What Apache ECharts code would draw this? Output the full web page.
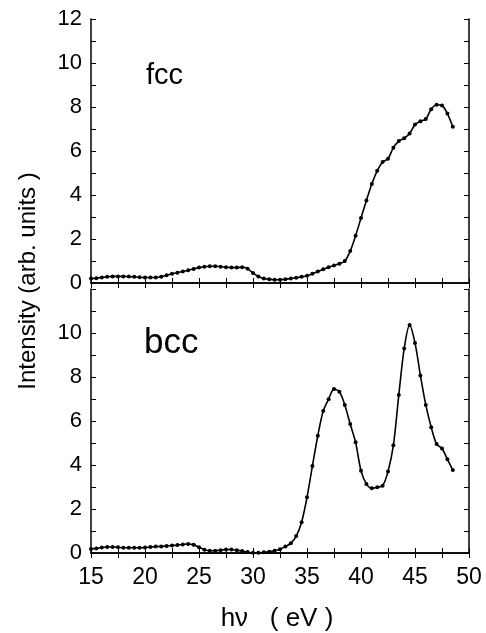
<!DOCTYPE html>
<html>
<head>
<meta charset="utf-8">
<script src="https://cdn.jsdelivr.net/npm/echarts@6/dist/echarts.min.js"></script>
<style>
html,body{margin:0;padding:0;background:#fff;}
#chart{width:486px;height:633px;}
</style>
</head>
<body>
<div id="chart"></div>
<script>
// Photon energy (eV)
const photonEnergy = [
  15.0, 15.5, 16.0, 16.5, 17.0, 17.5, 18.0, 18.5, 19.0, 19.5,
  20.0, 20.5, 21.0, 21.5, 22.0, 22.5, 23.0, 23.5, 24.0, 24.5,
  25.0, 25.5, 26.0, 26.5, 27.0, 27.5, 28.0, 28.5, 29.0, 29.5,
  30.0, 30.5, 31.0, 31.5, 32.0, 32.5, 33.0, 33.5, 34.0, 34.5,
  35.0, 35.5, 36.0, 36.5, 37.0, 37.5, 38.0, 38.5, 39.0, 39.5,
  40.0, 40.5, 41.0, 41.5, 42.0, 42.5, 43.0, 43.5, 44.0, 44.5,
  45.0, 45.5, 46.0, 46.5, 47.0, 47.5, 48.0, 48.5
];
// fcc intensity (arb. units)
const fccIntensity = [
  0.20, 0.22, 0.25, 0.28, 0.30, 0.30, 0.30, 0.29, 0.28, 0.26,
  0.25, 0.25, 0.25, 0.28, 0.35, 0.42, 0.47, 0.52, 0.58, 0.64,
  0.70, 0.74, 0.76, 0.76, 0.74, 0.72, 0.70, 0.70, 0.72, 0.65,
  0.45, 0.30, 0.20, 0.17, 0.15, 0.15, 0.17, 0.20, 0.24, 0.28,
  0.33, 0.42, 0.52, 0.62, 0.72, 0.80, 0.88, 1.00, 1.45, 2.15,
  2.95, 3.75, 4.50, 5.10, 5.50, 5.65, 6.15, 6.45, 6.58, 6.80,
  7.20, 7.35, 7.45, 7.90, 8.10, 8.07, 7.70, 7.10
];
// bcc intensity (arb. units)
const bccIntensity = [
  0.18, 0.21, 0.25, 0.27, 0.27, 0.26, 0.24, 0.24, 0.24, 0.24,
  0.25, 0.27, 0.29, 0.30, 0.32, 0.34, 0.36, 0.39, 0.41, 0.37,
  0.26, 0.15, 0.10, 0.10, 0.13, 0.16, 0.16, 0.13, 0.09, 0.04,
  0.01, 0.01, 0.03, 0.06, 0.10, 0.17, 0.29, 0.44, 0.77, 1.40,
  2.53, 3.95, 5.33, 6.45, 6.99, 7.45, 7.33, 6.73, 5.86, 5.03,
  3.74, 3.14, 2.94, 2.99, 3.06, 3.70, 4.90, 7.18, 9.30, 10.36,
  9.55, 8.07, 6.73, 5.72, 4.95, 4.75, 4.26, 3.77
];
const xMin = 15, xMax = 50, xStep = 2.5;
const yMin = 0, yMax = 12, yStep = 1;
const panelLabels = ['fcc', 'bcc'];
const xTitle = 'hν   ( eV )';
const yTitle = 'Intensity (arb. units )';

const FONT = '"Liberation Sans", Arial, Helvetica, sans-serif';
const BLACK = '#000';

function pair(xsArr, ysArr) { return xsArr.map((x, i) => [x, ysArr[i]]); }

const grids = [
  {left: 91, top: 19, width: 378, height: 264},
  {left: 91, top: 289, width: 378, height: 264}
];

const tickStyle = {show: true, inside: true, length: 5, lineStyle: {color: BLACK, width: 1}};
const lineStyle = {color: BLACK, width: 1.5};

const xAxes = [], yAxes = [];
grids.forEach((g, gi) => {
  xAxes.push({
    type: 'value', gridIndex: gi, min: xMin, max: xMax, interval: xStep, position: 'bottom',
    axisLine: {show: true, lineStyle: lineStyle}, axisTick: tickStyle, splitLine: {show: false},
    axisLabel: {
      show: gi === 1, margin: 13, color: BLACK, fontSize: 23, fontFamily: FONT,
      formatter: v => (Math.abs(v % 5) < 1e-9 ? String(v) : '')
    }
  });
  xAxes.push({
    type: 'value', gridIndex: gi, min: xMin, max: xMax, interval: xStep, position: 'top',
    axisLine: {show: true, lineStyle: lineStyle}, axisTick: tickStyle, splitLine: {show: false},
    axisLabel: {show: false}
  });
  yAxes.push({
    type: 'value', gridIndex: gi, min: yMin, max: yMax, interval: yStep, position: 'left',
    axisLine: {show: true, lineStyle: lineStyle}, axisTick: tickStyle, splitLine: {show: false},
    axisLabel: {
      show: true, margin: 9, color: BLACK, fontSize: 22, fontFamily: FONT,
      formatter: v => ((v % 2 === 0) && (gi === 0 || v <= 10) ? String(v) : '')
    }
  });
  yAxes.push({
    type: 'value', gridIndex: gi, min: yMin, max: yMax, interval: yStep, position: 'right',
    axisLine: {show: true, lineStyle: lineStyle}, axisTick: tickStyle, splitLine: {show: false},
    axisLabel: {show: false}
  });
});

const seriesData = [fccIntensity, bccIntensity];
const series = seriesData.map((vals, gi) => ({
  type: 'line', xAxisIndex: gi * 2, yAxisIndex: gi * 2,
  data: pair(photonEnergy, vals),
  smooth: 0.3,
  symbol: 'circle', symbolSize: 4,
  itemStyle: {color: BLACK},
  lineStyle: {color: BLACK, width: 1.6},
  animation: false
}));

const option = {
  backgroundColor: '#fff',
  animation: false,
  grid: grids,
  xAxis: xAxes,
  yAxis: yAxes,
  series: series,
  graphic: [
    {type: 'text', left: 146, top: 61, style: {text: panelLabels[0], font: '29px ' + FONT, fill: BLACK}},
    {type: 'text', left: 144, top: 326, style: {text: panelLabels[1], font: '35px ' + FONT, fill: BLACK}},
    {type: 'text', x: 28, y: 281, rotation: Math.PI / 2,
      style: {text: yTitle, font: '24px ' + FONT, fill: BLACK, textAlign: 'center', textVerticalAlign: 'middle'}},
    {type: 'text', x: 277, y: 619,
      style: {text: xTitle, font: '26px ' + FONT, fill: BLACK, textAlign: 'center', textVerticalAlign: 'middle'}}
  ]
};

const chart = echarts.init(document.getElementById('chart'), null, {renderer: 'canvas'});
chart.setOption(option);
</script>
</body>
</html>
